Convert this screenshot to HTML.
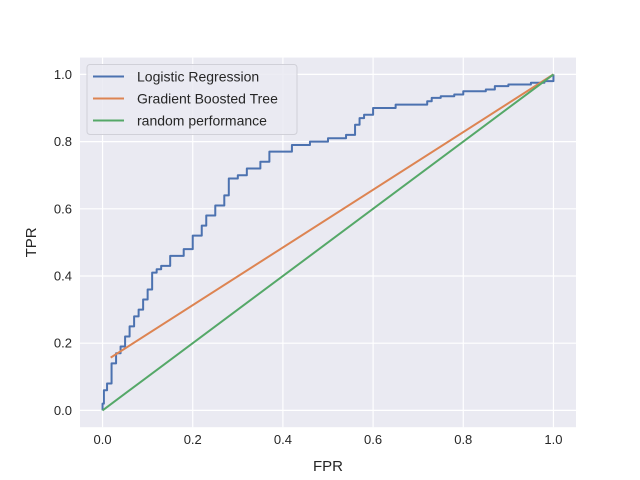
<!DOCTYPE html>
<html><head><meta charset="utf-8"><style>
body{margin:0;background:#fff;}
svg{display:block;font-family:"Liberation Sans","DejaVu Sans",sans-serif;}
</style></head><body>
<svg id="chart" width="640" height="480"></svg>
<script>
const xTicks=[0,0.2,0.4,0.6,0.8,1.0];
const yTicks=[0,0.2,0.4,0.6,0.8,1.0];
const tickLabels=["0.0","0.2","0.4","0.6","0.8","1.0"];
const lrFpr=[0,0,0.003,0.01,0.02,0.02,0.03,0.04,0.05,0.06,0.07,0.08,0.09,0.1,0.11,0.12,0.13,0.15,0.18,0.2,0.22,0.23,0.25,0.27,0.28,0.3,0.32,0.35,0.37,0.4,0.42,0.46,0.5,0.54,0.56,0.57,0.58,0.6,0.65,0.7,0.72,0.73,0.75,0.78,0.8,0.85,0.87,0.9,0.95,0.98,1];
const lrTpr=[0,0.02,0.06,0.08,0.09,0.14,0.17,0.19,0.22,0.25,0.28,0.30,0.33,0.36,0.41,0.42,0.43,0.46,0.48,0.52,0.55,0.58,0.61,0.64,0.69,0.70,0.72,0.74,0.77,0.77,0.79,0.80,0.81,0.82,0.85,0.87,0.88,0.90,0.91,0.91,0.92,0.93,0.935,0.94,0.95,0.955,0.965,0.97,0.975,0.98,1];
const gbFpr=[0.018,1];
const gbTpr=[0.157,1];
const rndFpr=[0,1];
const rndTpr=[0,1];
const L=80,R=576,T=57.6,B=427.2;
const sx=v=>L+(v+0.05)/1.1*(R-L);
const sy=v=>B-(v+0.05)/1.1*(B-T);
const svg=document.getElementById('chart');
const NS='http://www.w3.org/2000/svg';
function mk(t,a,p){const e=document.createElementNS(NS,t);for(const k in a)e.setAttribute(k,a[k]);(p||svg).appendChild(e);return e;}
let e=mk('rect',{x:L,y:T,width:R-L,height:B-T,fill:'#eaeaf2'});


xTicks.forEach((v,i)=>{
 let g=mk('line',{x1:sx(v),x2:sx(v),y1:T,y2:B,stroke:'#fff','stroke-width':1.2});
 
 
 let t=mk('text',{x:sx(v),y:B+17,'text-anchor':'middle','font-size':13,fill:'#262626'});
 t.textContent=tickLabels[i];
 
 
});
yTicks.forEach((v,i)=>{
 let g=mk('line',{x1:L,x2:R,y1:sy(v),y2:sy(v),stroke:'#fff','stroke-width':1.2});
 
 
 let t=mk('text',{x:L-8,y:sy(v)+4.5,'text-anchor':'end','font-size':13,fill:'#262626'});
 t.textContent=tickLabels[i];
 
 
});
function line(xs,ys,col,name,step){
 let d='';
 for(let i=0;i<xs.length;i++){
  if(i===0)d+='M'+sx(xs[i])+' '+sy(ys[i]);
  else if(step)d+=' L'+sx(xs[i])+' '+sy(ys[i-1])+' L'+sx(xs[i])+' '+sy(ys[i]);
  else d+=' L'+sx(xs[i])+' '+sy(ys[i]);
 }
 let p=mk('path',{d:d,fill:'none',stroke:col,'stroke-width':2,'stroke-linejoin':'round'});
 
 
}
line(lrFpr,lrTpr,'#4c72b0','logistic-regression-line',true);
line(gbFpr,gbTpr,'#dd8452','gradient-boosted-tree-line',false);
line(rndFpr,rndTpr,'#55a868','random-performance-line',false);
let xl=mk('text',{x:(L+R)/2,y:471,'text-anchor':'middle','font-size':15,fill:'#262626'});
xl.textContent='FPR';


let yl=mk('text',{x:0,y:0,'text-anchor':'middle','font-size':15,fill:'#262626',transform:'translate(36,'+((T+B)/2)+') rotate(-90)'});
yl.textContent='TPR';


let lg=mk('g',{});


mk('rect',{x:87,y:64.5,width:210,height:70,rx:3,fill:'#eaeaf2','fill-opacity':0.85,stroke:'#d0d0d8'},lg);
const names=['Logistic Regression','Gradient Boosted Tree','random performance'];
const cols=['#4c72b0','#dd8452','#55a868'];
names.forEach((n,i)=>{
 const y=76.5+i*22;
 let s=mk('line',{x1:93,x2:124,y1:y,y2:y,stroke:cols[i],'stroke-width':2},lg);
 
 
 let t=mk('text',{x:137,y:y+5,'font-size':14,fill:'#262626'},lg);
 t.textContent=n;
 
 
});
</script>
</body></html>
